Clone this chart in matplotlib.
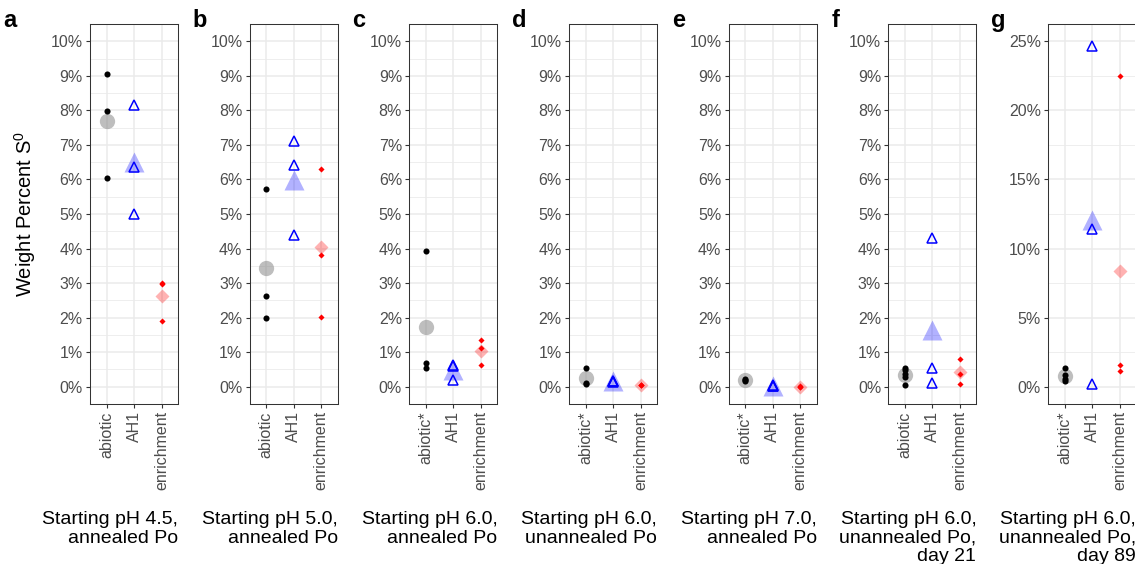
import numpy as np
import matplotlib
matplotlib.use("Agg")
import matplotlib.pyplot as plt
from matplotlib.ticker import MultipleLocator, FuncFormatter

plt.rcParams["font.family"] = ["Liberation Sans", "DejaVu Sans"]

panel_tags = ["a", "b", "c", "d", "e", "f", "g"]
conditions = [
    "Starting pH 4.5,\nannealed Po",
    "Starting pH 5.0,\nannealed Po",
    "Starting pH 6.0,\nannealed Po",
    "Starting pH 6.0,\nunannealed Po",
    "Starting pH 7.0,\nannealed Po",
    "Starting pH 6.0,\nunannealed Po,\nday 21",
    "Starting pH 6.0,\nunannealed Po,\nday 89",
]
abiotic_names = ["abiotic", "abiotic", "abiotic*", "abiotic*", "abiotic*", "abiotic", "abiotic*"]

# weight percent S0 per replicate
abiotic = [
    [9.06, 7.97, 6.04],
    [5.72, 2.62, 2.00],
    [3.92, 0.68, 0.55],
    [0.55, 0.12, 0.08],
    [0.21, 0.20, 0.18],
    [0.55, 0.47, 0.38, 0.28, 0.05],
    [1.35, 0.85, 0.55, 0.45],
]
ah1 = [
    [8.15, 6.37, 5.00],
    [7.11, 6.42, 4.38],
    [0.62, 0.60, 0.19],
    [0.18, 0.16, 0.14],
    [0.04, 0.02, 0.01],
    [4.30, 0.53, 0.12],
    [24.68, 11.39, 0.17],
]
enrichment = [
    [3.00, 2.97, 1.89],
    [6.30, 3.81, 2.03],
    [1.35, 1.12, 0.64],
    [0.06, 0.05, 0.04],
    [0.01, 0.00, 0.00],
    [0.81, 0.36, 0.09],
    [22.52, 1.56, 1.13],
]
y_max = [10, 10, 10, 10, 10, 10, 25]
y_step = [1, 1, 1, 1, 1, 1, 5]

W, H = 1135, 564
fig = plt.figure(figsize=(W / 100, H / 100), dpi=100)

pw, top, bottom = 88, 24, 404
for i in range(7):
    left = 90 + i * 159.67
    ax = fig.add_axes([left / W, (H - bottom) / H, pw / W, (bottom - top) / H])
    ax.set_axisbelow(True)

    groups = [abiotic[i], ah1[i], enrichment[i]]
    # group means underneath
    ax.plot(0, np.mean(groups[0]), "o", ms=11, color="#7f7f7f", alpha=0.5, mec="none")
    ax.plot(1, np.mean(groups[1]), "^", ms=14, color="#0000ff", alpha=0.3, mec="none")
    ax.plot(2, np.mean(groups[2]), "D", ms=7.6, color="#ff0000", alpha=0.3, mec="none")
    # replicates
    ax.plot([0] * len(groups[0]), groups[0], "o", ms=4.4, color="black", mec="none")
    ax.plot([1] * len(groups[1]), groups[1], "^", ms=7, mfc="none", mec="#0000ff", mew=1.1)
    ax.plot([2] * len(groups[2]), groups[2], "D", ms=3.1, color="#ff0000", mec="none")

    ymax = y_max[i]
    pad = ymax * 0.05
    ax.set_ylim(-pad, ymax + pad)
    ax.set_xlim(-0.6, 2.6)
    ax.yaxis.set_major_locator(MultipleLocator(y_step[i]))
    ax.yaxis.set_minor_locator(MultipleLocator(y_step[i] / 2))
    ax.yaxis.set_major_formatter(FuncFormatter(lambda v, p: f"{v:.0f}%"))
    ax.set_xticks([0, 1, 2])
    ax.set_xticklabels([abiotic_names[i], "AH1", "enrichment"], rotation=90)

    ax.grid(which="major", color="#ebebeb", lw=1.1)
    ax.grid(which="minor", axis="y", color="#ebebeb", lw=0.6)
    ax.tick_params(which="major", length=3.2, width=0.8, color="#333333",
                   labelcolor="#4d4d4d", labelsize=11.5, pad=2)
    ax.tick_params(which="minor", length=0)
    for s in ax.spines.values():
        s.set_color("#333333")
        s.set_linewidth(0.75)

    fig.text((left + pw) / W, (H - 511) / H, conditions[i], ha="right", va="top",
             multialignment="right", fontsize=14, linespacing=1.12)
    tag_x = 3 if i == 0 else left - 57
    fig.text(tag_x / W, (H - 27) / H, panel_tags[i], ha="left", va="baseline",
             fontsize=17, fontweight="bold")

fig.text(25 / W, (H - (top + bottom) / 2) / H,
         "Weight Percent S$^{\\mathregular{0}}$", rotation=90, ha="center", va="center",
         fontsize=14.5)

fig.savefig("out.png", dpi=100)
